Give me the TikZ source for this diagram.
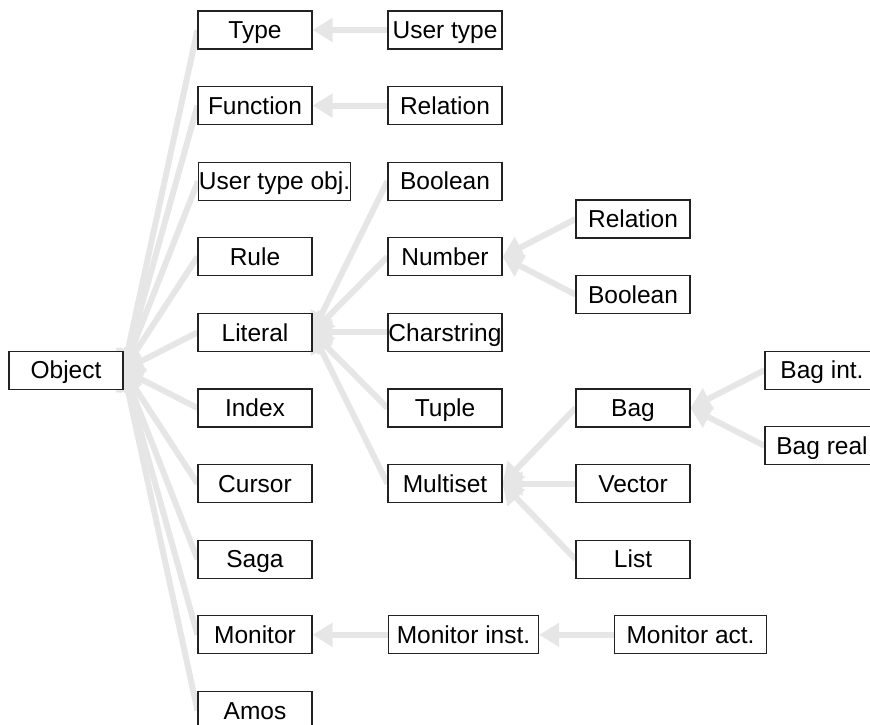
\documentclass[tikz,border=0pt]{standalone}
\usepackage{fontspec}
\setmainfont{Liberation Sans}
\usetikzlibrary{arrows.meta,backgrounds}
\definecolor{linkgray}{HTML}{E6E6E6}
\definecolor{boxline}{HTML}{222222}
\begin{document}
\begin{tikzpicture}[x=1pt,y=-1pt,
  box/.style={draw=boxline, line width=1.1pt, fill=white, minimum height=38pt,
    minimum width=114pt, inner sep=0pt, font=\fontsize{24.5}{29}\selectfont, text=black,
    text height=17.5pt, text depth=0pt},
  link/.style={draw=linkgray, line width=6pt, -{Triangle[length=20pt,width=23pt,fill=linkgray]}},
]
\clip (0,0) rectangle (870,725);
\useasboundingbox (0,0) rectangle (870,725);

% root
\node[box] (obj) at (66,370.2) {Object};

% first level
\node[box] (typ) at (255,30) {Type};
\node[box] (fun) at (255,105.6) {Function};
\node[box, minimum width=152pt, anchor=west] (uto) at (198,181.2) {User type obj.};
\node[box] (rul) at (255,256.8) {Rule};
\node[box] (lit) at (255,332.4) {Literal};
\node[box] (idx) at (255,408) {Index};
\node[box] (cur) at (255,483.6) {Cursor};
\node[box] (sag) at (255,559.2) {Saga};
\node[box] (mon) at (255,634.8) {Monitor};
\node[box] (amo) at (255,710.4) {Amos};

% second level
\node[box] (ut) at (445,30) {User type};
\node[box] (rel) at (445,105.6) {Relation};
\node[box] (boo) at (445,181.2) {Boolean};
\node[box] (num) at (445,256.8) {Number};
\node[box] (chs) at (445,332.4) {Charstring};
\node[box] (tup) at (445,408) {Tuple};
\node[box] (mul) at (445,483.6) {Multiset};
\node[box, minimum width=150pt, anchor=west] (mi) at (388,634.8) {Monitor inst.};

% third level
\node[box] (nrel) at (633,219) {Relation};
\node[box] (nboo) at (633,294.6) {Boolean};
\node[box] (bag) at (633,408) {Bag};
\node[box] (vec) at (633,483.6) {Vector};
\node[box] (lst) at (633,559.2) {List};
\node[box, minimum width=152pt, anchor=west] (ma) at (614,634.8) {Monitor act.};

% fourth level
\node[box] (bgi) at (822,370.2) {Bag int.};
\node[box] (bgr) at (822,445.8) {Bag real};

\begin{scope}[on background layer]
  \foreach \c in {typ,fun,uto,rul,lit,idx,cur,sag,mon,amo}
    \draw[link] (\c.west) -- (obj.east);
  \draw[link] (ut.west) -- (typ.east);
  \draw[link] (rel.west) -- (fun.east);
  \foreach \c in {boo,num,chs,tup,mul}
    \draw[link] (\c.west) -- (lit.east);
  \foreach \c in {nrel,nboo}
    \draw[link] (\c.west) -- (num.east);
  \foreach \c in {bag,vec,lst}
    \draw[link] (\c.west) -- (mul.east);
  \foreach \c in {bgi,bgr}
    \draw[link] (\c.west) -- (bag.east);
  \draw[link] (mi.west) -- (mon.east);
  \draw[link] (ma.west) -- (mi.east);
\end{scope}
\end{tikzpicture}
\end{document}
